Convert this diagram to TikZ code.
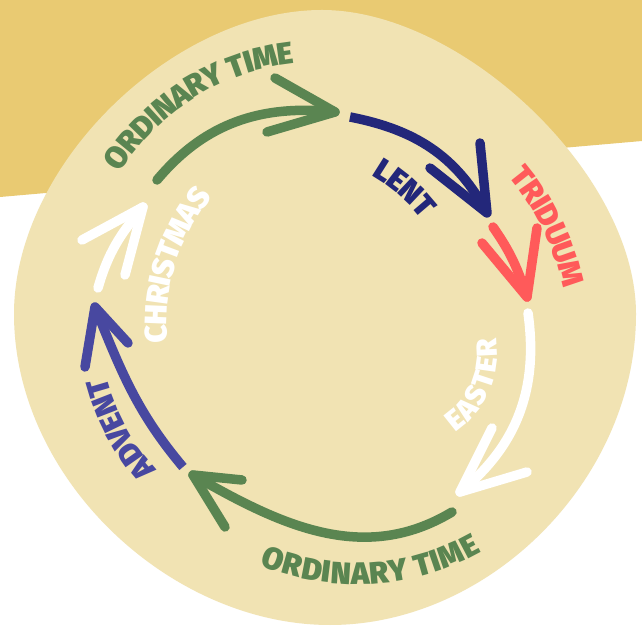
\documentclass[tikz,border=0pt]{standalone}
\usepackage{fontspec}
\usetikzlibrary{decorations.text}
\IfFontExistsTF{Fira Sans Heavy}{\newfontfamily\hv{Fira Sans Heavy}}{%
 \IfFontExistsTF{Fira Sans Black}{\newfontfamily\hv{Fira Sans Black}}{%
  \IfFontExistsTF{Fira Sans ExtraBold}{\newfontfamily\hv{Fira Sans ExtraBold}}{%
   \newfontfamily\hvbase{Fira Sans}\newcommand\hv{\hvbase\bfseries}}}}
\newcommand\lblfont{\hv\fontsize{31}{31}\selectfont}
\newcommand\lblfonts{\hv\fontsize{29}{29}\selectfont}
\definecolor{oGold}{HTML}{E9CA72}
\definecolor{oCream}{HTML}{F1E3B3}
\definecolor{oGreen}{HTML}{5A8551}
\definecolor{oNavy}{HTML}{23277A}
\definecolor{oRed}{HTML}{FF5A5A}
\definecolor{oPurple}{HTML}{4848A0}
\begin{document}
\begin{tikzpicture}[x=1pt,y=1pt,
  arr/.style={line width=9.5pt, line cap=round, line join=round},
  arrbutt/.style={line width=9.5pt, line cap=butt},
  lbl/.style={decorate, decoration={text along path, text align=center, raise=-10.5pt, text={#1}}}]
\useasboundingbox (0,0) rectangle (642,626);
\fill[white] (0,0) rectangle (642,626);
\fill[oGold] (0,626) -- (642,626) -- (642,485) -- (0,429) -- cycle;
\coordinate (bT) at (322,616); \coordinate (bR) at (636,312);
\coordinate (bB) at (330,1);   \coordinate (bL) at (14,312);
\fill[oCream] (bT) .. controls +(140,0) and +(0,140) .. (bR)
  .. controls +(0,-165) and +(160,0) .. (bB)
  .. controls +(-160,0) and +(0,-165) .. (bL)
  .. controls +(0,150) and +(-148,0) .. (bT) -- cycle;
% green top
\coordinate (s1) at (157,446); \coordinate (t1) at (335,514);
\coordinate (h1a) at (275,548); \coordinate (h1b) at (267,494);
\draw[arr, oGreen] (s1) to[out=50,in=174] (t1);
\draw[arr, oGreen] (h1a) -- (t1) -- (h1b);
% navy lent
\coordinate (s2) at (350,509); \coordinate (t2) at (487,413);
\coordinate (h2a) at (480,483); \coordinate (h2b) at (430,458);
\draw[arrbutt, oNavy] (s2) to[out=-11,in=118] (t2);
\draw[arr, oNavy] (h2a) -- (t2) -- (h2b);
% red triduum
\coordinate (s3) at (493,399); \coordinate (t3) at (527,329);
\coordinate (h3a) at (537,398); \coordinate (h3b) at (482,383);
\draw[arr, oRed] (s3) to[out=-55,in=108] (t3);
\draw[arr, oRed] (h3a) -- (t3) -- (h3b);
% white easter
\coordinate (s4) at (528,313); \coordinate (t4) at (460,134);
\coordinate (h4a) at (492,198); \coordinate (h4b) at (527,154);
\draw[arr, white] (s4) to[out=-82,in=39] (t4);
\draw[arr, white] (h4a) -- (t4) -- (h4b);
% green bottom
\coordinate (s5) at (452,114); \coordinate (t5) at (193,151);
\coordinate (h5a) at (242,146); \coordinate (h5b) at (225,99);
\draw[arr, oGreen] (s5) to[out=211,in=-30] (t5);
\draw[arr, oGreen] (h5a) -- (t5) -- (h5b);
% purple advent
\coordinate (s6) at (183,159); \coordinate (t6) at (95,319);
\coordinate (h6a) at (85,259); \coordinate (h6b) at (128,283);
\draw[arrbutt, oPurple] (s6) to[out=130,in=-68] (t6);
\draw[arr, oPurple] (h6a) -- (t6) -- (h6b);
% white christmas
\coordinate (s7) at (98,338); \coordinate (t7) at (143,419);
\coordinate (h7a) at (82,386); \coordinate (h7b) at (125,351);
\draw[arr, white] (s7) to[out=74,in=-130] (t7);
\draw[arr, white] (h7a) -- (t7) -- (h7b);
% label centres
\coordinate (cT) at (319,329);
\coordinate (cB) at (357,294);
\coordinate (cL) at (290,306);
\coordinate (cR) at (315,286);
\coordinate (cE) at (400,274);
\coordinate (cA) at (316,302);
\coordinate (cC) at (361,303);
\path[lbl={|\lblfont\color{oGreen}|ORDINARY TIME}]
  ([shift={(182:245)}]cT) arc[start angle=182, end angle=62, radius=245];
\path[lbl={|\lblfont\color{oGreen}|ORDINARY TIME}]
  ([shift={(-146.6:242)}]cB) arc[start angle=-146.6, end angle=-26.6, radius=242];
\path[lbl={|\lblfont\color{oNavy}|LENT}]
  ([shift={(109:176)}]cL) arc[start angle=109, end angle=-11, radius=176];
\path[lbl={|\lblfont\color{oRed}|TRIDUUM}]
  ([shift={(86:264)}]cR) arc[start angle=86, end angle=-34, radius=264];
\path[lbl={|\lblfonts\color{white}|EASTER}]
  ([shift={(-93.75:87)}]cE) arc[start angle=-93.75, end angle=46.25, radius=87];
\path[lbl={|\lblfont\color{oPurple}|ADVENT}]
  ([shift={(268.3:226.5)}]cA) arc[start angle=268.3, end angle=148.3, radius=226.5];
\path[lbl={|\lblfont\color{white}|CHRISTMAS}]
  ([shift={(222.7:205)}]cC) arc[start angle=222.7, end angle=102.7, radius=205];
\end{tikzpicture}
\end{document}
